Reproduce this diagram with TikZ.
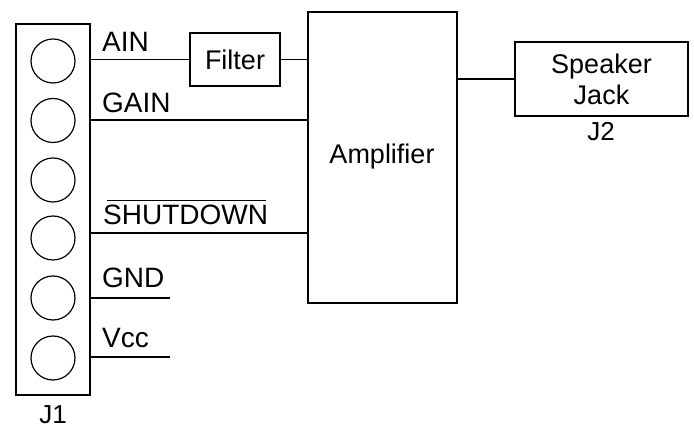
\documentclass[tikz,border=0pt]{standalone}
\usepackage{fontspec}
\setmainfont{Liberation Sans}
\begin{document}
\begin{tikzpicture}[x=1pt,y=-1pt,
  wire/.style={line width=1.6pt},
  blk/.style={draw,line width=1.6pt,inner sep=0pt,align=center,font=\fontsize{27}{31}\selectfont},
  lbl/.style={inner sep=0pt,anchor=base west,font=\fontsize{28}{32}\selectfont},
  pin/.style={draw,line width=1.2pt,circle,minimum size=44pt,inner sep=0pt}]
\useasboundingbox (0,0) rectangle (694,427);
% J1 connector
\node[blk,minimum width=74pt,minimum height=371pt] (j1) at (53,209.5) {};
\foreach \i/\y in {1/61,2/120.5,3/180,4/238,5/298,6/358}
  \node[pin] (c\i) at (53,\y) {};
\node[lbl,anchor=base,font=\fontsize{26}{31}\selectfont] (j1l) at (53,424) {J1};
% blocks
\node[blk,minimum width=90pt,minimum height=53pt] (filter) at (235,59.5) {Filter};
\node[blk,minimum width=149pt,minimum height=291pt] (amp) at (382.5,157.5) {};
\node[font=\fontsize{27}{31}\selectfont,inner sep=0pt] (ampl) at (382,157) {Amplifier};
\node[blk,minimum width=173pt,minimum height=74pt] (spk) at (601.5,79) {Speaker\\Jack};
\node[lbl,anchor=base,font=\fontsize{26}{31}\selectfont] (j2l) at (601,141) {J2};
% labels
\node[lbl] (ain) at (102,52) {AIN};
\node[lbl] (gain) at (102,113) {GAIN};
\node[lbl] (sd) at (103,225) {SHUTDOWN};
\draw[line width=1.4pt] ([xshift=4pt,yshift=5pt]sd.north west) -- ([xshift=-2pt,yshift=5pt]sd.north east);
\node[lbl] (gnd) at (102,288) {GND};
\node[lbl] (vcc) at (102,348) {Vcc};
% wire end coordinates
\coordinate (g1) at (j1.east |- 0,120);
\coordinate (s1) at (j1.east |- 0,233);
\coordinate (n1) at (j1.east |- 0,298);
\coordinate (n2) at (170,298);
\coordinate (v1) at (j1.east |- 0,357);
\coordinate (v2) at (170,357);
% wires
\draw[wire] (j1.east |- filter.west) -- (filter.west);
\draw[wire] (filter.east) -- (amp.west |- filter.east);
\draw[wire] (g1) -- (amp.west |- g1);
\draw[wire] (s1) -- (amp.west |- s1);
\draw[wire] (n1) -- (n2);
\draw[wire] (v1) -- (v2);
\draw[wire] (amp.east |- spk.west) -- (spk.west);
\end{tikzpicture}
\end{document}
